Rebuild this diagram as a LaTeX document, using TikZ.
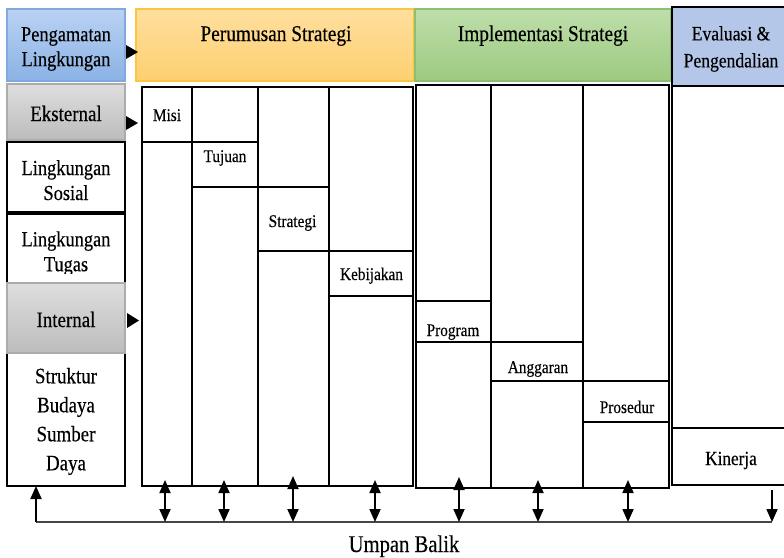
\documentclass[tikz,border=0pt]{standalone}
\usepackage{fontspec}
\setmainfont{Liberation Serif}[FakeStretch=0.86,FakeBold=0.3]
\usetikzlibrary{arrows.meta}

\definecolor{pengTop}{RGB}{186,210,243}
\definecolor{pengBot}{RGB}{138,178,229}
\definecolor{pengLine}{RGB}{128,170,222}
\definecolor{grayTop}{RGB}{222,222,222}
\definecolor{grayBot}{RGB}{188,188,188}
\definecolor{grayLine}{RGB}{172,172,172}
\definecolor{orTop}{RGB}{255,223,158}
\definecolor{orBot}{RGB}{253,207,112}
\definecolor{orLine}{RGB}{250,198,66}
\definecolor{grTop}{RGB}{190,222,170}
\definecolor{grBot}{RGB}{157,202,128}
\definecolor{grLine}{RGB}{142,190,112}
\definecolor{evalFill}{RGB}{180,199,232}
\definecolor{fbLine}{RGB}{70,70,70}

% rectangle node from its top-left and bottom-right corners
\newcommand\rectnode[6]{%
  \node[#6, minimum width={#4pt-#2pt}, minimum height={#5pt-#3pt},
        anchor=north west] (#1) at (#2,#3) {};}

\begin{document}
\begin{tikzpicture}[x=1pt,y=-1pt,
  shapebase/.style={rectangle, inner sep=0pt, outer sep=0pt},
  cell/.style={shapebase, draw=black, line width=1.8pt},
  whitebox/.style={shapebase, draw=black, line width=1.8pt, fill=white},
  graybox/.style={shapebase, draw=grayLine, line width=1.2pt,
                  top color=grayTop, bottom color=grayBot},
  pengbox/.style={shapebase, draw=pengLine, line width=1.2pt,
                  top color=pengTop, bottom color=pengBot},
  orbox/.style={shapebase, draw=orLine, line width=1.4pt,
                top color=orTop, bottom color=orBot},
  grbox/.style={shapebase, draw=grLine, line width=1.2pt,
                top color=grTop, bottom color=grBot},
  evalbox/.style={shapebase, draw=black, line width=2pt, fill=evalFill},
  hdr/.style={font=\fontsize{22.5}{26}\selectfont, inner sep=0pt},
  side/.style={font=\fontsize{21.4}{25}\selectfont, align=center, inner sep=0pt},
  sidebig/.style={font=\fontsize{22}{29}\selectfont, align=center, inner sep=0pt},
  lab/.style={font=\fontsize{17.8}{21}\selectfont, inner sep=0pt, anchor=base},
  tablines/.style={line width=1.8pt, black},
  marker/.style={fill=black},
  dbl/.style={line width=1.8pt,
    {Triangle[width=11pt,length=13pt]}-{Triangle[width=11pt,length=13pt]}},
  single/.style={line width=1.8pt, -{Triangle[width=11pt,length=13pt]}},
  fb/.style={line width=1.8pt, fbLine}]

\useasboundingbox (0,0) rectangle (784,557);
\clip (0,0) rectangle (784,557);

% ---------- column headers ----------
\rectnode{peng}{7}{9}{125}{81}{pengbox}
\node[side] (penglbl) at (66,49) {Pengamatan\\Lingkungan};

\rectnode{perumusan}{136}{9}{414}{81}{orbox}
\node[hdr, anchor=base] (perumusanlbl) at (276,41) {Perumusan Strategi};

\rectnode{implementasi}{415}{9}{671}{81}{grbox}
\node[hdr, anchor=base] (implementasilbl) at (543,41) {Implementasi Strategi};

\rectnode{evaluasi}{672}{7}{792}{86}{evalbox}
\node[font=\fontsize{20.4}{27}\selectfont, align=center, inner sep=0pt]
  (evaluasilbl) at (731,49) {Evaluasi \&\\Pengendalian};

% ---------- environment column ----------
\rectnode{eksternal}{7}{84}{125}{140}{graybox}
\node[font=\fontsize{22}{25}\selectfont, inner sep=0pt, anchor=base]
  (eksternallbl) at (66,121) {Eksternal};

\rectnode{sosial}{7}{142}{125}{212}{whitebox}
\node[side] (sosiallbl) at (66,180.2) {Lingkungan\\Sosial};

\rectnode{tugas}{7}{214}{125}{283}{whitebox}
\begin{scope}
  \clip (7,214) rectangle (125,273);
  \node[side] (tugaslbl) at (66,253.6) {Lingkungan\\Tugas};
\end{scope}

\rectnode{struktur}{7}{352}{125}{486}{whitebox}
\node[sidebig] (strukturlbl) at (66,421.5) {Struktur\\Budaya\\Sumber\\Daya};

\rectnode{internal}{7}{283}{125}{353}{graybox}
\node[font=\fontsize{22}{25}\selectfont, inner sep=0pt, anchor=base]
  (internallbl) at (66,327) {Internal};

% pointers from the environment column
\fill[marker] (126,45) -- (138,52) -- (126,59) -- cycle;
\fill[marker] (126,116) -- (138,123) -- (126,130) -- cycle;
\fill[marker] (127,313) -- (139,320.5) -- (127,328) -- cycle;

% ---------- strategy formulation table ----------
\rectnode{ptab}{142}{87}{413}{486}{cell}
\draw[tablines] (192,87) -- (192,486);
\draw[tablines] (258,87) -- (258,486);
\draw[tablines] (329,87) -- (329,486);
\rectnode{misi}{142}{87}{192}{142}{cell}
\rectnode{tujuan}{192}{142}{258}{187}{cell}
\rectnode{strategi}{258}{187}{329}{251}{cell}
\rectnode{kebijakan}{329}{251}{413}{296}{cell}
\node[lab] (misilbl) at (167,121) {Misi};
\node[lab] (tujuanlbl) at (225,162) {Tujuan};
\node[lab] (strategilbl) at (292.5,227) {Strategi};
\node[lab] (kebijakanlbl) at (371.5,280) {Kebijakan};

% ---------- strategy implementation table ----------
\rectnode{itab}{416}{85}{669}{488}{cell}
\draw[tablines] (491,85) -- (491,488);
\draw[tablines] (583,85) -- (583,488);
\rectnode{program}{416}{301}{491}{342}{cell}
\rectnode{anggaran}{491}{342}{583}{381}{cell}
\rectnode{prosedur}{583}{381}{669}{422}{cell}
\node[lab] (programlbl) at (453,336) {Program};
\node[lab] (anggaranlbl) at (538,373) {Anggaran};
\node[lab] (prosedurlbl) at (627,413) {Prosedur};

% ---------- evaluation column ----------
\rectnode{evalcol}{672}{86}{792}{485}{cell}
\rectnode{kinerja}{672}{428}{792}{485}{cell}
\node[font=\fontsize{20}{23}\selectfont, inner sep=0pt, anchor=base]
  (kinerjalbl) at (731,465) {Kinerja};

% ---------- feedback loop ----------
\coordinate (fbL) at (36,522);
\coordinate (fbR) at (772,522);
\coordinate (upEnd) at (36,486);
\coordinate (downStart) at (772,490);
\draw[fb] (fbL) -- (fbR);
\draw[single] (fbL) -- (upEnd);
\draw[single] (downStart) -- (fbR);

\foreach \n/\x/\t in {a/165/480, b/224/480, c/293/476, d/375/480,
                      e/459/477, f/538/480, g/628/480} {
  \coordinate (\n top) at (\x,\t);
  \coordinate (\n bot) at (\x,522);
  \draw[dbl] (\n top) -- (\n bot);
}

\node[font=\fontsize{24}{28}\selectfont, inner sep=0pt, anchor=base]
  (umpanbalik) at (404,552) {Umpan Balik};

\end{tikzpicture}
\end{document}
